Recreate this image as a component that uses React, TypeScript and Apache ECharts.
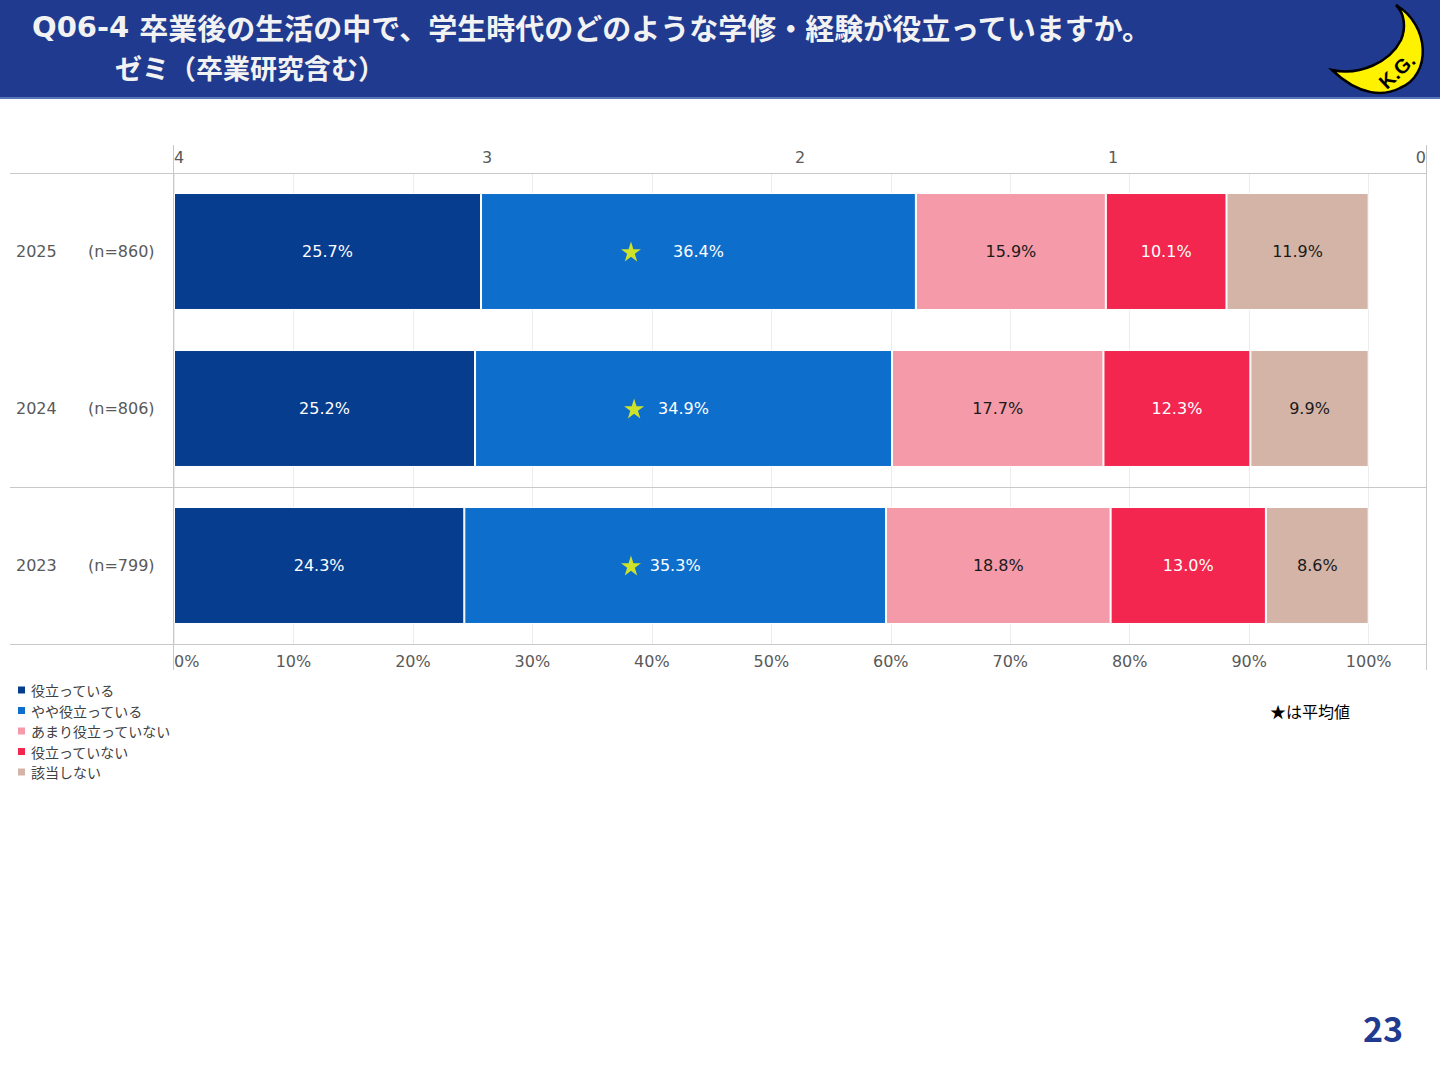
import React, { useEffect, useRef } from "react";
import * as echarts from "echarts";

// ---- data ----
const years = ["2025", "2024", "2023"];
const sampleSizes = ["(n=860)", "(n=806)", "(n=799)"];
const seriesNames = ["役立っている", "やや役立っている", "あまり役立っていない", "役立っていない", "該当しない"];
const useful = [25.7, 25.2, 24.3];
const somewhatUseful = [36.4, 34.9, 35.3];
const notVeryUseful = [15.9, 17.7, 18.8];
const notUseful = [10.1, 12.3, 13.0];
const notApplicable = [11.9, 9.9, 8.6];
const averages = [2.54, 2.53, 2.54];

const seriesValues = [useful, somewhatUseful, notVeryUseful, notUseful, notApplicable];
const seriesColors = ["#073D8E", "#0E6ECC", "#F49AA8", "#F2264E", "#D4B4A6"];
const labelColors = ["#ffffff", "#ffffff", "#1a1a1a", "#ffffff", "#1a1a1a"];

const FONT = "'Noto Sans CJK JP', 'Noto Sans', sans-serif";
const NUMFONT = "'DejaVu Sans', 'Noto Sans CJK JP', sans-serif";
const STAR = "path://M50,0 L61.8,35.1 L98.9,35.1 L68.9,56.8 L80.3,91.9 L50,70.2 L19.7,91.9 L31.1,56.8 L1.1,35.1 L38.2,35.1 Z";

echarts.graphic.registerShape(
  "kgMoon",
  echarts.graphic.extendPath(
    "M1396 5 C1430 25 1432 75 1400 88 C1385 96 1360 97 1332 70 C1360 76 1390 62 1401 40 C1406 28 1405 14 1396 5 Z",
    {}
  )
);

export default function App() {
  const ref = useRef<HTMLDivElement>(null);

  useEffect(() => {
    if (!ref.current) return;
    const chart = echarts.init(ref.current, undefined, { renderer: "svg" });

    const lineColor = "#c8c8c8";
    const barSeries = seriesNames.map((name, si) => ({
      name,
      type: "bar",
      stack: "total",
      xAxisIndex: 0,
      yAxisIndex: 0,
      barCategoryGap: "25.5%",
      itemStyle: { color: seriesColors[si], borderColor: "#ffffff", borderWidth: 1 },
      label: {
        show: true,
        position: "inside",
        color: labelColors[si],
        fontSize: 16,
        fontFamily: NUMFONT,
        formatter: (p: any) => `${Number(p.value).toFixed(1)}%`,
      },
      data: seriesValues[si],
      z: 2,
    }));

    const option: any = {
      animation: false,
      backgroundColor: "#ffffff",
      textStyle: { fontFamily: FONT },
      grid: { left: 174, right: 14, top: 173, bottom: 436, containLabel: false },
      legend: {
        data: seriesNames,
        orient: "vertical",
        left: 16,
        top: 683,
        padding: 0,
        itemWidth: 9,
        itemHeight: 9,
        itemGap: 6.5,
        icon: "rect",
        textStyle: { fontSize: 14, color: "#404040", fontFamily: FONT, lineHeight: 14 },
        selectedMode: false,
      },
      xAxis: [
        {
          type: "value",
          position: "bottom",
          min: 0,
          max: 104.8,
          interval: 10,
          axisLine: { show: false },
          axisTick: { show: false },
          splitLine: { show: true, lineStyle: { color: "#ececec", width: 1 } },
          axisLabel: {
            formatter: (v: number) => `${v}%`,
            showMaxLabel: false,
            alignMinLabel: "left",
            margin: 9,
            fontSize: 16,
            color: "#595959",
            fontFamily: NUMFONT,
          },
        },
        {
          type: "value",
          position: "top",
          min: 0,
          max: 4,
          interval: 1,
          inverse: true,
          axisLine: { show: false },
          axisTick: { show: false },
          splitLine: { show: false },
          axisLabel: {
            alignMinLabel: "right",
            alignMaxLabel: "left",
            margin: 8,
            fontSize: 16,
            color: "#595959",
            fontFamily: NUMFONT,
          },
        },
      ],
      yAxis: {
        type: "category",
        data: years,
        inverse: true,
        axisLine: { show: false },
        axisTick: { show: false },
        splitLine: { show: false },
        axisLabel: {
          align: "left",
          margin: 158,
          formatter: (v: string, i: number) => `{y|${v}}{n|${sampleSizes[i]}}`,
          rich: {
            y: { width: 72, fontSize: 16, color: "#595959", fontFamily: NUMFONT },
            n: { fontSize: 16, color: "#595959", fontFamily: NUMFONT },
          },
        },
      },
      series: [
        ...barSeries,
        {
          name: "平均値",
          type: "scatter",
          xAxisIndex: 1,
          yAxisIndex: 0,
          symbol: STAR,
          symbolSize: 20,
          itemStyle: { color: "#FFFF00" },
          data: averages.map((v, i) => [v, years[i]]),
          z: 10,
        },
      ],
      graphic: [
        { type: "rect", z: 0, shape: { x: 0, y: 0, width: 1440, height: 97 }, style: { fill: "#203A8F" } },
        { type: "rect", z: 0, shape: { x: 0, y: 97, width: 1440, height: 2 }, style: { fill: "#5a74b8" } },
        {
          type: "text",
          z: 1,
          x: 32,
          y: 26.5,
          style: {
            text: "{l|Q06-4 }{c|卒業後の生活の中で、学生時代のどのような学修・経験が役立っていますか。}",
            verticalAlign: "middle",
            rich: {
              l: { fill: "#f2f2f2", fontWeight: "bold", fontSize: 29, fontFamily: NUMFONT },
              c: { fill: "#f2f2f2", fontWeight: "bold", fontSize: 29, fontFamily: FONT },
            },
          },
        },
        {
          type: "text",
          z: 1,
          x: 115,
          y: 67.5,
          style: {
            text: "ゼミ（卒業研究含む）",
            fill: "#f2f2f2",
            fontWeight: "bold",
            fontSize: 27,
            fontFamily: FONT,
            verticalAlign: "middle",
          },
        },
        {
          type: "kgMoon",
          z: 1,
          x: 0,
          y: 0,
          style: { fill: "#FFF200", stroke: "#000000", lineWidth: 2.5 },
        },
        {
          type: "text",
          z: 2,
          x: 1397,
          y: 71,
          rotation: 0.75,
          style: {
            text: "K.G.",
            fill: "#000000",
            fontSize: 20,
            fontWeight: "bold",
            fontFamily: "'Liberation Sans', sans-serif",
            align: "center",
            verticalAlign: "middle",
          },
        },
        { type: "line", z: 1, shape: { x1: 10, y1: 173.5, x2: 1426, y2: 173.5 }, style: { stroke: lineColor, lineWidth: 1 } },
        { type: "line", z: 1, shape: { x1: 10, y1: 487.5, x2: 1426, y2: 487.5 }, style: { stroke: lineColor, lineWidth: 1 } },
        { type: "line", z: 1, shape: { x1: 10, y1: 644.5, x2: 1426, y2: 644.5 }, style: { stroke: lineColor, lineWidth: 1 } },
        { type: "line", z: 1, shape: { x1: 173.5, y1: 145, x2: 173.5, y2: 670 }, style: { stroke: lineColor, lineWidth: 1 } },
        { type: "line", z: 1, shape: { x1: 1426.5, y1: 145, x2: 1426.5, y2: 670 }, style: { stroke: lineColor, lineWidth: 1 } },
        {
          type: "text",
          x: 1270,
          y: 711,
          style: {
            text: "★は平均値",
            fill: "#000000",
            fontSize: 16,
            fontFamily: FONT,
            verticalAlign: "middle",
          },
        },
        {
          type: "text",
          x: 1383,
          y: 1027,
          style: {
            text: "23",
            fill: "#203A8F",
            fontSize: 34,
            fontWeight: "bold",
            fontFamily: FONT,
            align: "center",
            verticalAlign: "middle",
          },
        },
      ],
    };

    chart.setOption(option);
    return () => chart.dispose();
  }, []);

  return (
    <div
      ref={ref}
      style={{ position: "absolute", left: 0, top: 0, width: 1440, height: 1080, background: "#ffffff" }}
    />
  );
}
